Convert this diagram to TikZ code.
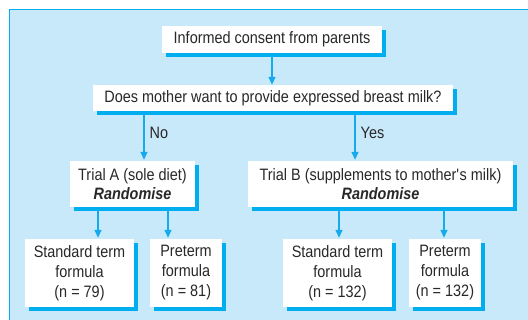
\documentclass[tikz,border=0pt]{standalone}
\usepackage{fontspec}
\setmainfont{Liberation Sans}[FakeStretch=0.875]
\usetikzlibrary{shadows,arrows.meta}
\definecolor{bgblue}{RGB}{200,233,249}
\definecolor{cyanline}{RGB}{0,174,239}
\definecolor{arrcol}{RGB}{20,170,235}
\definecolor{txt}{RGB}{40,40,42}
\tikzset{
  box/.style={fill=white, draw=none, inner sep=0pt, align=center, text=txt,
    font=\fontsize{16.5}{20}\selectfont,
    general shadow={fill=cyanline, shadow xshift=4pt, shadow yshift=-4pt}},
  arr/.style={draw=arrcol, line width=1.4pt, -{Triangle[length=8pt,width=7pt]}},
  lbl/.style={text=txt, font=\fontsize{16.5}{20}\selectfont, anchor=west, inner sep=0pt}
}
\begin{document}
\begin{tikzpicture}[x=1pt,y=-1pt]
\useasboundingbox (0,0) rectangle (528,320);
\clip (0,0) rectangle (528,320);
\fill[bgblue] (9.5,9.5) rectangle (540,330);
\draw[cyanline, line width=1.3pt] (9.5,330) -- (9.5,9.5) -- (540,9.5);

\node[box, minimum width=220pt, minimum height=27pt] (n1) at (272,39.5) {Informed consent from parents};
\node[box, minimum width=360pt, minimum height=26pt] (n2) at (273,98) {Does mother want to provide expressed breast milk?};
\node[box, minimum width=125pt, minimum height=46pt, font=\fontsize{16.5}{18.5}\selectfont] (A) at (132.5,184) {Trial A (sole diet)\\\textbf{\textit{Randomise}}};
\node[box, minimum width=265pt, minimum height=46pt, font=\fontsize{16.5}{18.5}\selectfont] (B) at (380.5,184) {Trial B (supplements to mother\textquotesingle s milk)\\\textbf{\textit{Randomise}}};
\node[box, minimum width=109pt, minimum height=68pt] (A1) at (79.5,273) {Standard term\\formula\\(n = 79)};
\node[box, minimum width=72pt, minimum height=68pt] (A2) at (186,273) {Preterm\\formula\\(n = 81)};
\node[box, minimum width=109pt, minimum height=68pt] (B1) at (337.5,273) {Standard term\\formula\\(n = 132)};
\node[box, minimum width=72pt, minimum height=68pt] (B2) at (445,273) {Preterm\\formula\\(n = 132)};

\coordinate (c1) at (272,0);
\coordinate (cno) at (144,0);
\coordinate (cyes) at (355,0);
\coordinate (ca1) at (98,0);
\coordinate (ca2) at (168,0);
\coordinate (cb1) at (339,0);
\coordinate (cb2) at (444,0);

\draw[arr] ([yshift=-4pt]n1.south -| c1) -- (n2.north -| c1);
\draw[arr] ([yshift=-4pt]n2.south -| cno) -- ([yshift=1pt]A.north -| cno) node[lbl, pos=0.4, xshift=5pt] {No};
\draw[arr] ([yshift=-4pt]n2.south -| cyes) -- ([yshift=1pt]B.north -| cyes) node[lbl, pos=0.4, xshift=5pt] {Yes};
\draw[arr] ([yshift=-4pt]A.south -| ca1) -- ([yshift=1pt]A1.north -| ca1);
\draw[arr] ([yshift=-4pt]A.south -| ca2) -- ([yshift=1pt]A2.north -| ca2);
\draw[arr] ([yshift=-4pt]B.south -| cb1) -- ([yshift=1pt]B1.north -| cb1);
\draw[arr] ([yshift=-4pt]B.south -| cb2) -- ([yshift=1pt]B2.north -| cb2);
\end{tikzpicture}
\end{document}
